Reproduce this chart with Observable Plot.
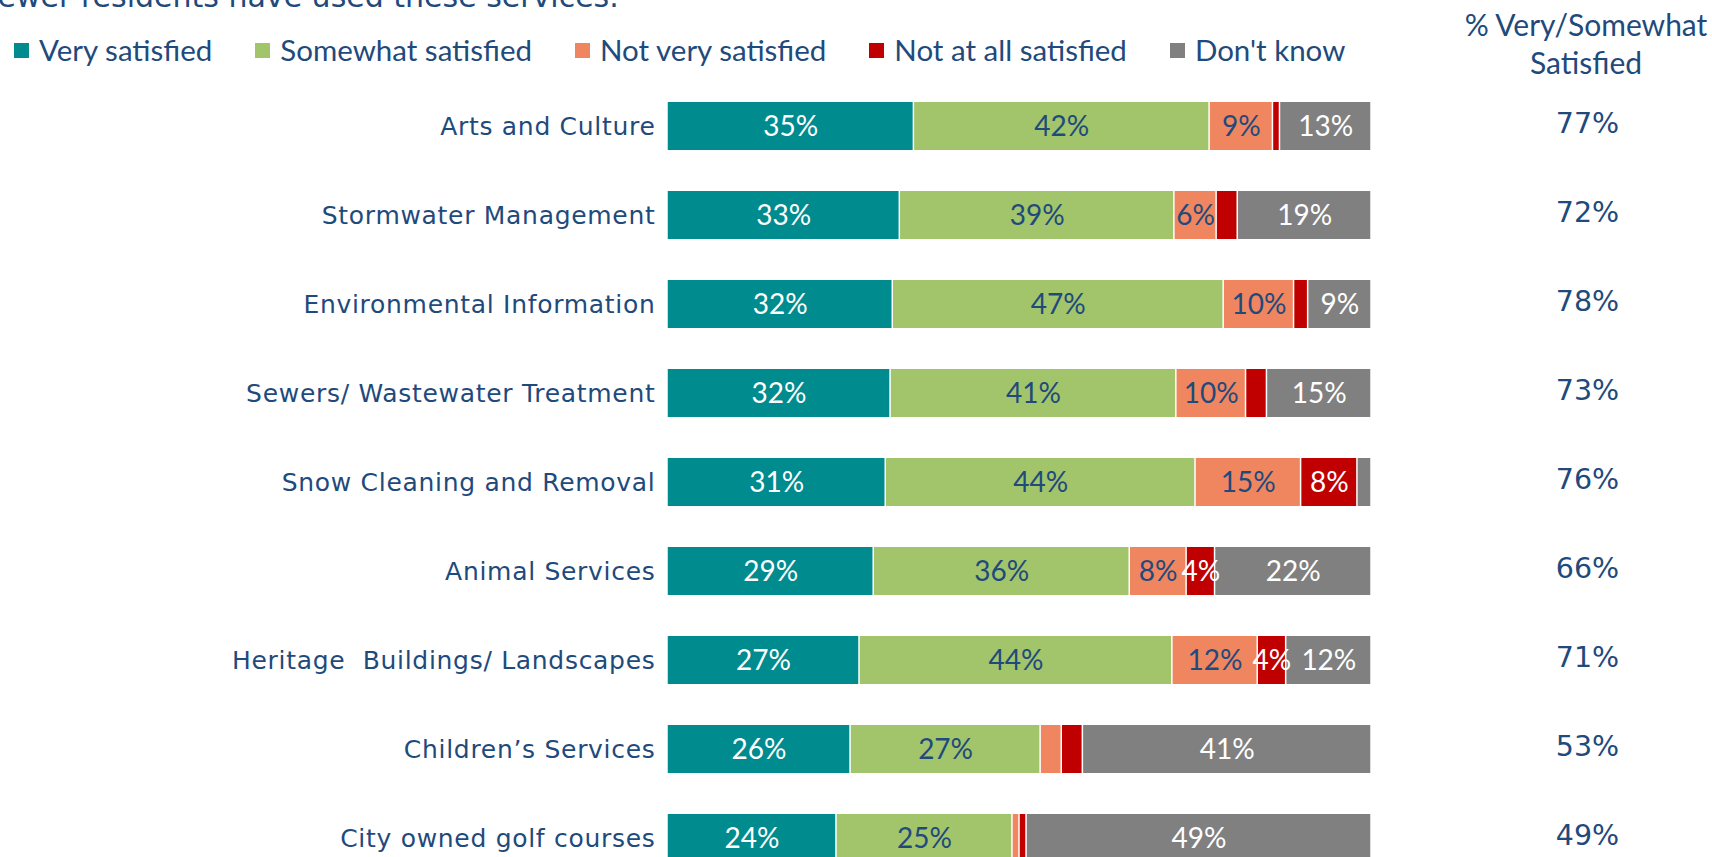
<!DOCTYPE html>
<html>
<head>
<meta charset="utf-8">
<script src="https://cdn.jsdelivr.net/npm/d3@7"></script>
<script src="https://cdn.jsdelivr.net/npm/@observablehq/plot@0.6"></script>
<style>
  html, body { margin: 0; padding: 0; background: #fff; overflow: hidden; }
  #wrap { position: relative; width: 1712px; height: 857px; overflow: hidden; background: #fff; }
  #chart { position: absolute; left: 0; top: 0; }
  #topnote { position: absolute; left: -18px; top: -18px; font: 30px/30px "DejaVu Sans"; color: #1f4a7c; white-space: nowrap; }
  #legend { position: absolute; left: 14px; top: 35px; display: flex; gap: 43px; font: 29.5px/30px Lato; color: #1f4a7c; }
  #legend .item { display: flex; align-items: center; gap: 10px; white-space: nowrap; }
  #legend .sw { width: 15px; height: 15px; display: inline-block; }
  #hdr { position: absolute; left: 1436px; width: 300px; top: 5px; text-align: center; font: 30px/38px Lato; color: #1f4a7c; white-space: nowrap; }
  #chart g[aria-label="y-axis tick label"] text { letter-spacing: 0.7px; }
</style>
</head>
<body>
<div id="wrap">
  <div id="chart"></div>
  <div id="topnote">Fewer residents have used these services.</div>
  <div id="legend"></div>
  <div id="hdr">% Very/Somewhat<br>Satisfied</div>
</div>
<script>
const services = [
  "Arts and Culture",
  "Stormwater Management",
  "Environmental Information",
  "Sewers/ Wastewater Treatment",
  "Snow Cleaning and Removal",
  "Animal Services",
  "Heritage  Buildings/ Landscapes",
  "Children\u2019s Services",
  "City owned golf courses"
];
const levels = ["Very satisfied", "Somewhat satisfied", "Not very satisfied", "Not at all satisfied", "Don't know"];
const colors = ["#008b8f", "#a2c46a", "#f08660", "#c00000", "#808080"];
const verySatisfied     = [35, 33, 32, 32, 31, 29, 27, 26, 24];
const somewhatSatisfied = [42, 39, 47, 41, 44, 36, 44, 27, 25];
const notVerySatisfied  = [9, 6, 10, 10, 15, 8, 12, 3, 1];
const notAtAllSatisfied = [1, 3, 2, 3, 8, 4, 4, 3, 1];
const dontKnow          = [13, 19, 9, 15, 2, 22, 12, 41, 49];
const topTwoBox         = [77, 72, 78, 73, 76, 66, 71, 53, 49];

const series = [verySatisfied, somewhatSatisfied, notVerySatisfied, notAtAllSatisfied, dontKnow];
const textColor = "#1f4a7c";
const whiteLabelLevels = new Set(["Very satisfied", "Not at all satisfied", "Don't know"]);

const rows = services.flatMap((s, i) => levels.map((l, j) => ({service: s, level: l, value: series[j][i]})));

const stackOpts = {x: "value", y: "service", z: "level", order: levels, offset: "normalize"};
const minLabel = 4;

const chart = Plot.plot({
  width: 1712,
  height: 910,
  marginTop: 61,
  marginBottom: 7,
  marginLeft: 667,
  marginRight: 341,
  x: {domain: [0, 1], axis: null},
  y: {domain: services, padding: 0.46, axis: null},
  color: {domain: levels, range: colors},
  marks: [
    Plot.barX(rows, Plot.stackX({...stackOpts, fill: "level", insetLeft: 0.75, insetRight: 0.75})),
    Plot.text(rows, Plot.stackX({
      ...stackOpts,
      text: d => (whiteLabelLevels.has(d.level) && d.value >= minLabel) ? d.value + "%" : "",
      fill: "white", fontSize: 28, fontFamily: "Lato", dy: 1
    })),
    Plot.text(rows, Plot.stackX({
      ...stackOpts,
      text: d => (!whiteLabelLevels.has(d.level) && d.value >= minLabel) ? d.value + "%" : "",
      fill: textColor, fontSize: 28, fontFamily: "Lato", dy: 1
    })),
    Plot.axisY({tickSize: 0, tickPadding: 12, fontSize: 25, fontFamily: "DejaVu Sans", color: textColor, label: null}),
    Plot.text(services, {
      y: d => d, text: (d, i) => topTwoBox[i] + "%",
      frameAnchor: "right", textAnchor: "middle", dx: 216, dy: -3,
      fill: textColor, fontSize: 28.5, fontFamily: "DejaVu Sans"
    })
  ]
});
document.getElementById("chart").appendChild(chart);

const legend = document.getElementById("legend");
levels.forEach((l, i) => {
  const item = document.createElement("div");
  item.className = "item";
  const sw = document.createElement("span");
  sw.className = "sw";
  sw.style.background = colors[i];
  const t = document.createElement("span");
  t.textContent = l;
  item.appendChild(sw);
  item.appendChild(t);
  legend.appendChild(item);
});
</script>
</body>
</html>
